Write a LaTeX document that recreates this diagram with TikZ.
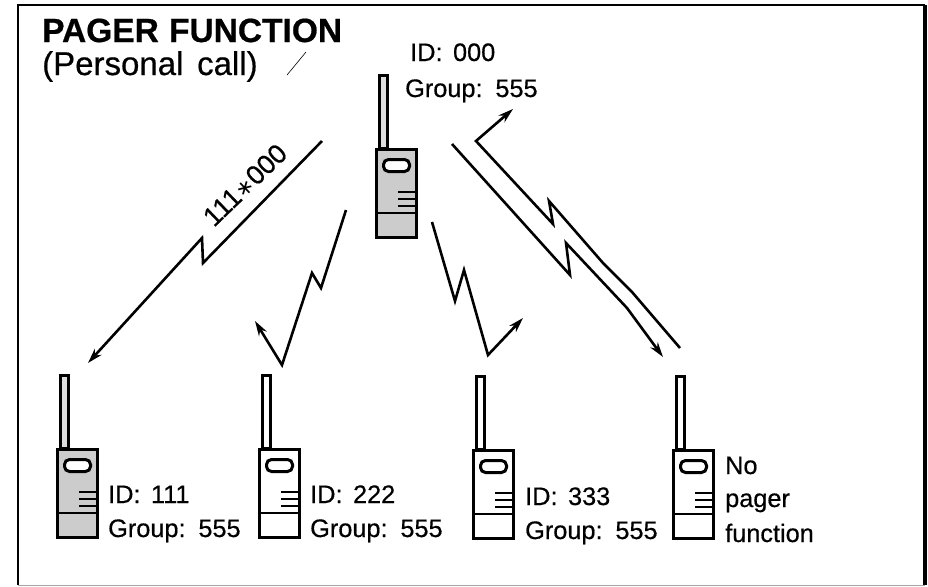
\documentclass[tikz,border=0pt]{standalone}
\usepackage{fontspec}
\setmainfont[WordSpace=1.5,FakeBold=0.5,BoldFeatures={FakeBold=0.6,WordSpace=1.1}]{Liberation Sans}
\newfontfamily\symfont[Scale=0.8]{DejaVu Sans}
\usetikzlibrary{arrows.meta}
\definecolor{stip}{gray}{0.8}
\definecolor{stipant}{gray}{0.87}
\tikzset{
  x=1pt,y=-1pt,
  lbl/.style={inner sep=0pt,anchor=base west,font=\fontsize{25.3}{25.5}\selectfont},
  wire/.style={line width=2.6pt,line join=miter,miter limit=6,-{Stealth[length=15pt,width=9pt]}},
  frameline/.style={line width=2.4pt},
  pics/pager/.style 2 args={code={
    \path[draw=black,line width=3pt,fill=#2] (4.5,0) rectangle (12.5,-72.5);
    \path[draw=black,line width=3.2pt,fill=#1] (1.5,1.5) rectangle (41.5,89.5);
    \draw[line width=3pt,fill=white,rounded corners=5pt] (8.5,11.5) rectangle (34.5,23.5);
    \draw[line width=2.6pt] (23,44) -- (41.5,44) (23,51) -- (41.5,51) (23,58) -- (41.5,58);
    \draw[line width=2.4pt] (1.5,65) -- (41.5,65);
  }},
}
\begin{document}
\begin{tikzpicture}
\useasboundingbox (0,0) rectangle (928,586);
% frame
\coordinate (tl) at (18,5); \coordinate (tr) at (925,5);
\coordinate (bl) at (18,585); \coordinate (br) at (925,585);
\draw[frameline] (bl) -- (tl) -- (tr);
\draw[line width=3.4pt] (tr) -- (br);
\draw[line width=1pt,black!35] (bl) -- (br);
% pagers
\pic at (375,148) {pager={stip}{stipant}};
\pic at (56,448) {pager={stip}{stipant}};
\pic at (258,448) {pager={white}{white}};
\pic at (472,449) {pager={white}{white}};
\pic at (672,449) {pager={white}{white}};
% titles
\node[inner sep=0pt,anchor=base west,font=\fontsize{33.5}{34}\selectfont\bfseries] (title) at (42,42) {PAGER FUNCTION};
\node[inner sep=0pt,anchor=base west,font=\fontsize{33}{34}\selectfont] (sub) at (42,75) {(Personal call)};
% labels
\node[lbl] (id0) at (410,61) {ID: 000};
\node[lbl] (gr0) at (405,97) {Group: 555};
\node[lbl] (id1) at (108,503) {ID: 111};
\node[lbl] (gr1) at (108,537) {Group: 555};
\node[lbl] (id2) at (310,503) {ID: 222};
\node[lbl] (gr2) at (310,537) {Group: 555};
\node[lbl] (id3) at (525,505) {ID: 333};
\node[lbl] (gr3) at (525,539) {Group: 555};
\node[lbl] (no) at (725,474) {No};
\node[lbl] (pg) at (725,507) {pager};
\node[lbl] (fn) at (725,542) {function};
\node[inner sep=0pt,rotate=44,font=\fontsize{27}{27}\selectfont] (code) at (245,185) {111{\symfont ∗}000};
% signal zigzags
\coordinate (a0) at (322,141); \coordinate (a1) at (203,263); \coordinate (a2) at (202,238); \coordinate (a3) at (88,363);
\draw[wire] (a0) -- (a1) -- (a2) -- (a3);
\coordinate (b0) at (346,210); \coordinate (b1) at (321,288); \coordinate (b2) at (312,273); \coordinate (b3) at (282,365); \coordinate (b4) at (255,321);
\draw[wire] (b0) -- (b1) -- (b2) -- (b3) -- (b4);
\coordinate (c0) at (432,222); \coordinate (c1) at (455,301); \coordinate (c2) at (464,270); \coordinate (c3) at (488,355); \coordinate (c4) at (523,318);
\draw[wire] (c0) -- (c1) -- (c2) -- (c3) -- (c4);
\coordinate (d0) at (452,144); \coordinate (d1) at (570,275); \coordinate (d2) at (566,243); \coordinate (d3) at (627,308); \coordinate (d4) at (663,357);
\draw[wire] (d0) -- (d1) -- (d2) -- (d3) -- (d4);
\coordinate (e0) at (680,348); \coordinate (e1) at (632,292); \coordinate (e2) at (603,263); \coordinate (e3) at (549,201); \coordinate (e4) at (553,224); \coordinate (e5) at (476,141); \coordinate (e6) at (513,109);
\draw[wire] (e0) -- (e1) -- (e2) -- (e3) -- (e4) -- (e5) -- (e6);
% stray tick
\coordinate (t0) at (287,75); \coordinate (t1) at (306,52);
\draw[line width=0.6pt] (t0) -- (t1);
\end{tikzpicture}
\end{document}
